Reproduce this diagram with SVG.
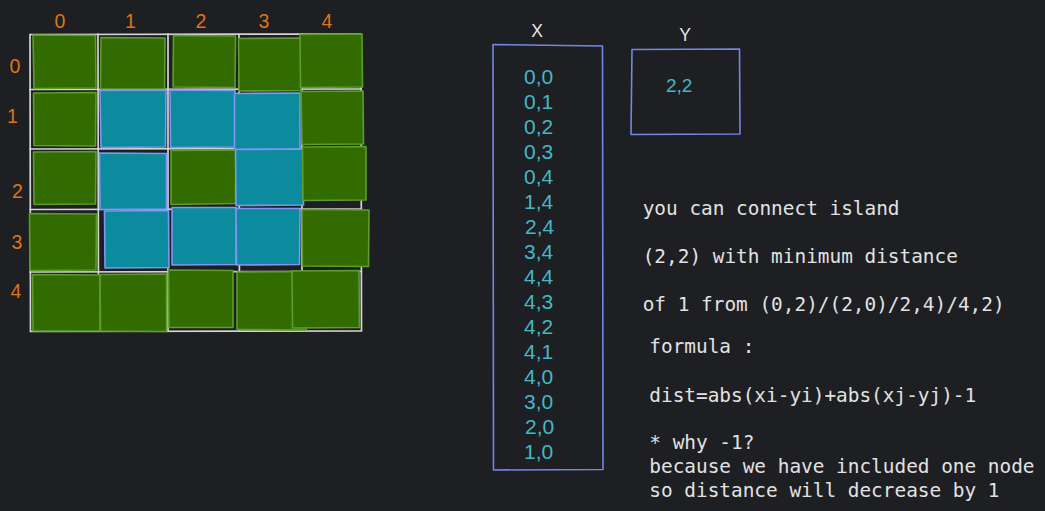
<svg xmlns="http://www.w3.org/2000/svg" width="1045" height="511" viewBox="0 0 1045 511">
<style>
.bg{fill:#1e1f22}
.grid{fill:none;stroke:#d4d4d4;stroke-width:1.7;stroke-linecap:round}
.land{fill:#326c00;stroke:#5e9c2c;stroke-width:1.6;stroke-linejoin:round}
.water{fill:#0c8a9e;stroke:#7f97f2;stroke-width:1.6;stroke-linejoin:round}
.idx{font-family:"Liberation Sans",Arial,sans-serif;font-size:19.5px;fill:#dd7418}
.coord{font-family:"Liberation Sans",Arial,sans-serif;font-size:21px;fill:#45b7c6}
.head{font-family:"Liberation Sans",Arial,sans-serif;font-size:17.5px;fill:#e6e6e6;text-anchor:middle}
.box{fill:none;stroke:#7387e6;stroke-width:1.6;stroke-linejoin:round}
.mono{font-family:"DejaVu Sans Mono","Liberation Mono",monospace;font-size:19.4px;fill:#e2e2e2}
</style>
<rect class="bg" x="0" y="0" width="1045" height="511"/>

<g id="grid-lines">
  <path class="grid" d="M30,34.5 L361,34 L361.5,331 L30.5,331.5 Z"/>
  <path class="grid" d="M98,34 L98.5,331 M168,34 L168,331 M239,34.5 L239.5,331 M302,34 L302,331"/>
  <path class="grid" d="M30,89.5 L361,89 M30,149 L361,148.5 M30,209.5 L361,209 M30,272 L361,271.5"/>
</g>

<g id="cells">
  <g id="cell-0-0"><polygon class="land" points="33,35 95.5,35.5 96,88 34,88.5"/></g>
  <g id="cell-0-1"><polygon class="land" points="101,37.5 165,38 164.5,89 100.5,89"/></g>
  <g id="cell-0-2"><polygon class="land" points="173.5,35.5 235.5,36 235,87.5 173,87"/></g>
  <g id="cell-0-3"><polygon class="land" points="238.5,38.5 301,38 301,90.5 239,91"/></g>
  <g id="cell-0-4"><polygon class="land" points="300,34.5 362,34 362.5,87 300.5,87.5"/></g>

  <g id="cell-1-0"><polygon class="land" points="33.5,93 96,92.5 95.5,146 34,145.5"/></g>
  <g id="cell-1-1"><polygon class="water" points="100,90.5 166,90 165.5,147 101,147.5"/></g>
  <g id="cell-1-2"><polygon class="water" points="170,90 235,90.5 235,147 170.5,147.5"/></g>
  <g id="cell-1-3"><polygon class="water" points="234.5,93.5 300,93 300,149 234.5,149.5"/></g>
  <g id="cell-1-4"><polygon class="land" points="301,91.5 363,91 363.5,144 302,144.5"/></g>

  <g id="cell-2-0"><polygon class="land" points="33.5,152 96,151.5 95.5,204 34,204.5"/></g>
  <g id="cell-2-1"><polygon class="water" points="99.5,153 166.5,153.5 166.5,209 100,209.5"/></g>
  <g id="cell-2-2"><polygon class="land" points="171,150.5 236,150 235.5,203.5 171,204.5"/></g>
  <g id="cell-2-3"><polygon class="water" points="235.5,149.5 303,149 303.5,205 236,205.5"/></g>
  <g id="cell-2-4"><polygon class="land" points="302.5,147 366,146.5 366,200 303,200.5"/></g>

  <g id="cell-3-0"><polygon class="land" points="29.5,213.5 96.5,214 96,270 30,270.5"/></g>
  <g id="cell-3-1"><polygon class="water" points="104.5,211 168.5,210.5 169,267.5 105,268"/></g>
  <g id="cell-3-2"><polygon class="water" points="172,207.5 236.5,207.5 236,264.5 172,265"/></g>
  <g id="cell-3-3"><polygon class="water" points="236,208.5 300,208.5 299.5,264.5 236.5,265"/></g>
  <g id="cell-3-4"><polygon class="land" points="302,209.5 369,210 368.5,266.5 302.5,266"/></g>

  <g id="cell-4-0"><polygon class="land" points="32.5,274.5 100,275 100,331 33,331"/></g>
  <g id="cell-4-1"><polygon class="land" points="100,274.5 166.5,274 166.5,331.5 100.5,331"/></g>
  <g id="cell-4-2"><polygon class="land" points="168.5,270 233,270.5 233,327.5 169,327.5"/></g>
  <g id="cell-4-3"><polygon class="land" points="237,272 306.5,271.5 306,330 237,329.5"/></g>
  <g id="cell-4-4"><polygon class="land" points="292,271 359,270.5 359.5,327.5 292.5,328"/></g>
</g>

<g id="column-labels" class="idx" text-anchor="middle">
  <text x="60" y="28.3">0</text>
  <text x="130.5" y="28.3">1</text>
  <text x="201" y="28.3">2</text>
  <text x="264" y="28.3">3</text>
  <text x="327" y="28.3">4</text>
</g>
<g id="row-labels" class="idx" text-anchor="middle">
  <text x="15" y="73">0</text>
  <text x="12.5" y="123">1</text>
  <text x="17.5" y="198">2</text>
  <text x="17" y="249">3</text>
  <text x="16" y="298">4</text>
</g>

<g id="node-x">
  <text class="head" x="537" y="37.3">X</text>
  <path class="box" d="M493,44.5 L602.5,46 L603,469.5 L493.5,470 Z"/>
  <g class="coord">
    <text x="524" y="83.5">0,0</text>
    <text x="524" y="108.5">0,1</text>
    <text x="524" y="133.5">0,2</text>
    <text x="524" y="158.5">0,3</text>
    <text x="524" y="183.5">0,4</text>
    <text x="524" y="208.5">1,4</text>
    <text x="525" y="233.5">2,4</text>
    <text x="524" y="258.5">3,4</text>
    <text x="524" y="283.5">4,4</text>
    <text x="524" y="308.5">4,3</text>
    <text x="524" y="333.5">4,2</text>
    <text x="524" y="358.5">4,1</text>
    <text x="524" y="383.5">4,0</text>
    <text x="524" y="408.5">3,0</text>
    <text x="525" y="433.5">2,0</text>
    <text x="524" y="458.5">1,0</text>
  </g>
</g>

<g id="node-y">
  <text class="head" x="685" y="40.5">Y</text>
  <path class="box" d="M632,49.5 L739.5,49 L740,134 L631,134.5 Z"/>
  <text class="coord" x="666" y="91.5" style="font-size:19px">2,2</text>
</g>

<g id="explanation" class="mono">
  <text x="642.7" y="215">you can connect island</text>
  <text x="642.7" y="262.5">(2,2) with minimum distance</text>
  <text x="642.7" y="310.5">of 1 from (0,2)/(2,0)/2,4)/4,2)</text>
  <text x="649.3" y="353.3">formula :</text>
  <text x="649.3" y="401.5">dist=abs(xi-yi)+abs(xj-yj)-1</text>
  <text x="649.3" y="449.3">* why -1?</text>
  <text x="649.3" y="473.3">because we have included one node</text>
  <text x="649.3" y="497">so distance will decrease by 1</text>
</g>

<g id="connectors"/>
</svg>
